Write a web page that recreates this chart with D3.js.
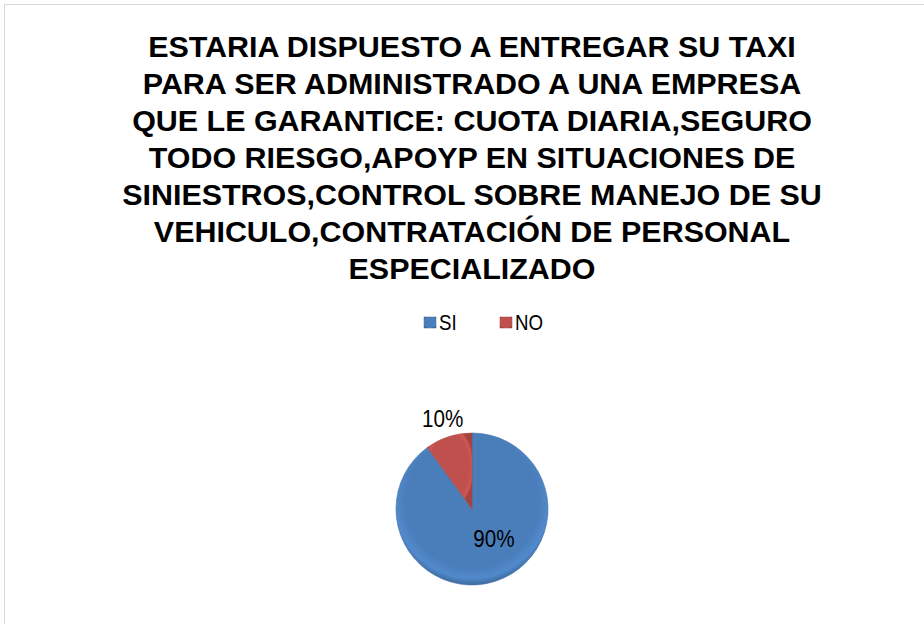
<!DOCTYPE html>
<html>
<head>
<meta charset="utf-8">
<script src="https://cdn.jsdelivr.net/npm/d3@7"></script>
<style>
  body { margin: 0; background: #fff; }
  svg { display: block; }
</style>
</head>
<body>
<svg id="chart" width="924" height="624"></svg>
<script>
var categories = ['SI', 'NO'];
var values = [90, 10];
var colors = ['#4A7EBB', '#C0504D'];
var titleLines = [
  'ESTARIA DISPUESTO A ENTREGAR SU TAXI',
  'PARA SER ADMINISTRADO A UNA EMPRESA',
  'QUE LE GARANTICE: CUOTA DIARIA,SEGURO',
  'TODO RIESGO,APOYP EN SITUACIONES DE',
  'SINIESTROS,CONTROL SOBRE MANEJO DE SU',
  'VEHICULO,CONTRATACIÓN DE PERSONAL',
  'ESPECIALIZADO'
];

var font = '"Liberation Sans", Arial, sans-serif';
var svg = d3.select('#chart');

// frame
svg.append('rect')
  .attr('x', 4.5).attr('y', 4.5)
  .attr('width', 930).attr('height', 640)
  .attr('fill', '#fff')
  .attr('stroke', '#d9d9d9');

// title (condensed look is faked with a horizontal scale)
svg.append('g')
  .attr('transform', 'translate(472,0) scale(1.05,1)')
  .selectAll('text')
  .data(titleLines)
  .enter()
  .append('text')
  .attr('x', 0)
  .attr('y', function (d, i) { return 57 + i * 37; })
  .attr('text-anchor', 'middle')
  .style('font-family', font)
  .style('font-weight', 'bold')
  .style('font-size', '29px')
  .text(function (d) { return d; });

// gradients
var defs = svg.append('defs');
colors.forEach(function (c, i) {
  var g = defs.append('radialGradient')
    .attr('id', 'grad' + i)
    .attr('cx', '50%').attr('cy', '45%').attr('r', '55%');
  g.append('stop').attr('offset', '0%').attr('stop-color', c);
  g.append('stop').attr('offset', '80%').attr('stop-color', c);
  g.append('stop').attr('offset', '92%').attr('stop-color', d3.color(c).brighter(0.25));
  g.append('stop').attr('offset', '100%').attr('stop-color', d3.color(c).darker(0.5));
});

// legend
var legend = svg.append('g')
  .selectAll('g')
  .data(categories)
  .enter()
  .append('g')
  .attr('transform', function (d, i) { return 'translate(' + (424 + i * 76) + ',317)'; });

legend.append('rect')
  .attr('width', 12).attr('height', 11)
  .attr('fill', function (d, i) { return 'url(#grad' + i + ')'; })
  .attr('stroke', function (d, i) { return d3.color(colors[i]).darker(0.5); })
  .attr('stroke-width', 0.5);

legend.append('text')
  .attr('transform', 'translate(15,13) scale(0.85,1)')
  .style('font-family', font)
  .style('font-size', '22px')
  .text(function (d) { return d; });

// pie
var cx = 472, cy = 509, radius = 76;
var pie = d3.pie().sort(null).value(function (d) { return d; });
var arc = d3.arc().innerRadius(0).outerRadius(radius);
var arcs = pie(values);

var pieG = svg.append('g').attr('transform', 'translate(' + cx + ',' + cy + ')');

pieG.selectAll('path')
  .data(arcs)
  .enter()
  .append('path')
  .attr('d', arc)
  .attr('fill', function (d, i) { return 'url(#grad' + i + ')'; })
  .attr('stroke', function (d, i) { return d3.color(colors[i]).darker(0.3); })
  .attr('stroke-width', 0.6);

// data labels
var labelArc = [
  d3.arc().innerRadius(radius * 0.55).outerRadius(radius * 0.55),
  d3.arc().innerRadius(radius * 1.25).outerRadius(radius * 1.25)
];
var labelShift = [[9, -10], [0, 0]];
pieG.selectAll('text.lbl')
  .data(arcs)
  .enter()
  .append('text')
  .attr('class', 'lbl')
  .attr('transform', function (d, i) {
    var p = labelArc[i].centroid(d);
    return 'translate(' + (p[0] + labelShift[i][0]) + ',' + (p[1] + labelShift[i][1]) + ') scale(0.86,1)';
  })
  .attr('text-anchor', 'middle')
  .attr('dy', '0.35em')
  .style('font-family', font)
  .style('font-size', '24px')
  .text(function (d) { return d.data + '%'; });
</script>
</body>
</html>
